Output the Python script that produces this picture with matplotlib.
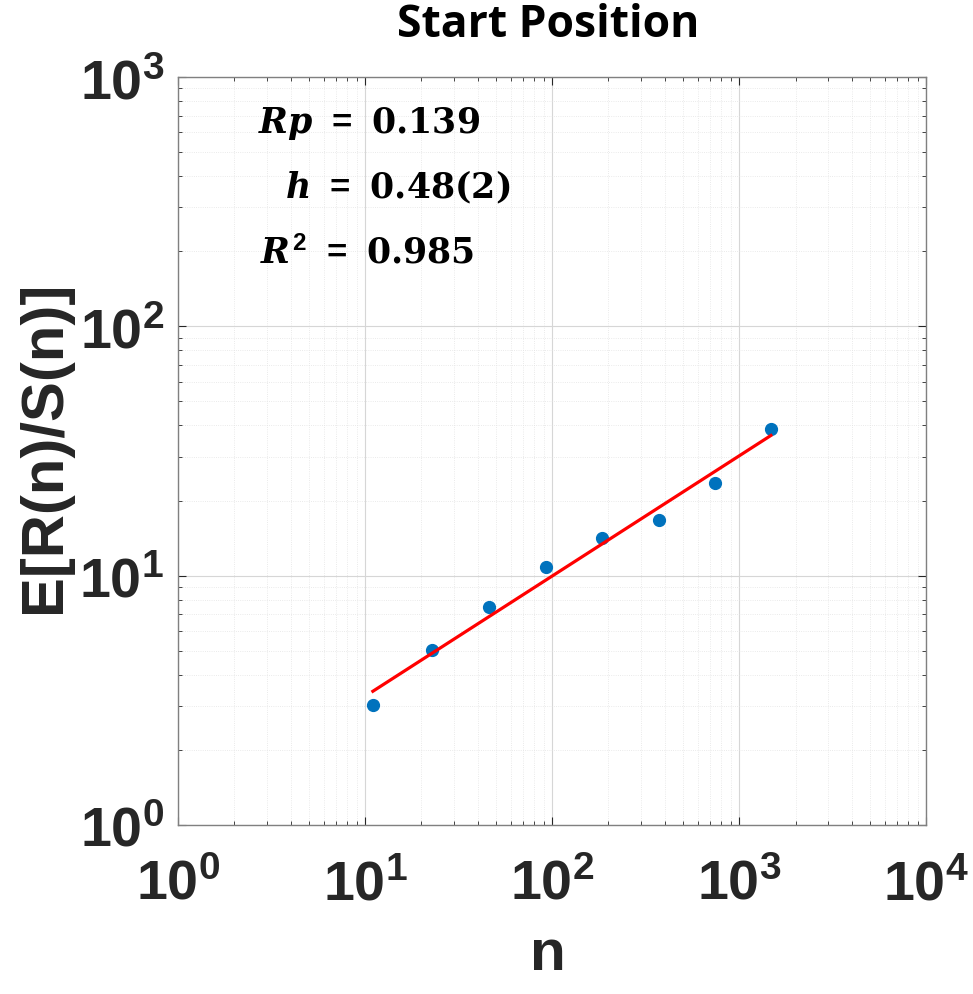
import numpy as np
import matplotlib
matplotlib.use("Agg")
import matplotlib.pyplot as plt
from matplotlib.ticker import LogLocator, NullFormatter

# 数据
n_vals = [11, 22.7, 46, 93, 184, 373, 744, 1477]
rs_vals = [3.03, 5.01, 7.46, 10.8, 14.1, 16.7, 23.6, 38.9]
x_ticks = [1, 10, 100, 1000, 10000]
y_ticks = [1, 10, 100, 1000]
title = "Start Position"
xlabel = "n"
ylabel = "E[R(n)/S(n)]"

plt.rcParams['mathtext.fontset'] = 'custom'
plt.rcParams['mathtext.rm'] = 'Liberation Sans:bold'
plt.rcParams['mathtext.it'] = 'DejaVu Serif:bold:italic'
plt.rcParams['mathtext.bf'] = 'DejaVu Serif:bold'

fig = plt.figure(figsize=(9.73, 9.95), dpi=100)
ax = fig.add_axes([0.183, 0.170, 0.769, 0.7516])

# 拟合直线 (log-log)
logx = np.log10(n_vals)
logy = np.log10(rs_vals)
k, b = np.polyfit(logx, logy, 1)
fit_x = np.array([n_vals[0], n_vals[-1]])
fit_y = 10 ** (k * np.log10(fit_x) + b)

ax.plot(n_vals, rs_vals, 'o', color='#0072BD', markersize=8.5, zorder=3)
ax.plot(fit_x, fit_y, '-', color='#FF0000', linewidth=2.3, zorder=4)

ax.set_xscale('log')
ax.set_yscale('log')
ax.set_xlim(1, 10000)
ax.set_ylim(1, 1000)

ax.set_xticks(x_ticks)
ax.set_xticklabels([r'$\mathrm{10^{%d}}$' % int(np.log10(t)) for t in x_ticks])
ax.set_yticks(y_ticks)
ax.set_yticklabels([r'$\mathrm{10^{%d}}$' % int(np.log10(t)) for t in y_ticks])
for axis in (ax.xaxis, ax.yaxis):
    axis.set_minor_locator(LogLocator(base=10, subs=np.arange(2, 10), numticks=100))
    axis.set_minor_formatter(NullFormatter())

ax.tick_params(axis='both', which='major', labelsize=40, colors='#262626',
               direction='in', top=True, right=True, length=6)
ax.tick_params(axis='x', which='major', pad=23)
ax.tick_params(axis='y', which='major', pad=10)
ax.tick_params(axis='both', which='minor', direction='in', top=True, right=True,
               length=3, colors='#262626')

ax.grid(True, which='major', color='#d6d6d6', linewidth=0.8)
ax.grid(True, which='minor', color='#e3e3e3', linewidth=0.6, linestyle=':')
for s in ax.spines.values():
    s.set_color('#808080')
    s.set_linewidth(1.0)

fig.text(0.563, 0.974, title, ha='center', va='center', fontsize=32,
         fontweight='bold', family='Open Sans', color='black')
fig.text(0.563, 0.040, xlabel, ha='center', va='center', fontsize=42,
         fontweight='bold', family='Liberation Sans', color='#262626')
fig.text(0.046, 0.551, ylabel, ha='center', va='center', fontsize=43,
         fontweight='bold', family='Liberation Sans', color='#262626', rotation=90)

ax.text(258 / 973, 1 - 124 / 995, r'$Rp\ =\ \mathbf{0.139}$', transform=fig.transFigure,
        fontsize=25, va='center', ha='left')
ax.text(285 / 973, 1 - 187 / 995, r'$h\ =\ \mathbf{0.48(2)}$', transform=fig.transFigure,
        fontsize=25, va='center', ha='left')
ax.text(260 / 973, 1 - 253 / 995, r'$R^{2}\ =\ \mathbf{0.985}$', transform=fig.transFigure,
        fontsize=25, va='center', ha='left')

fig.savefig('out.png', dpi=100)
